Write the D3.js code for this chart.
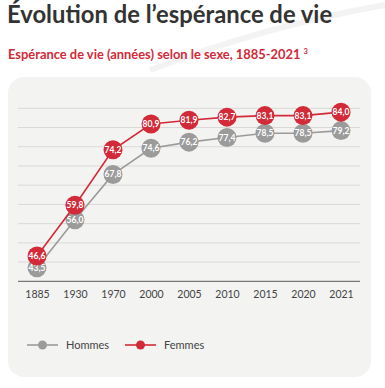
<!DOCTYPE html>
<html>
<head>
<meta charset="utf-8">
<script src="https://cdn.jsdelivr.net/npm/d3@7"></script>
<style>
  body { margin: 0; background: #fff; }
  text { font-family: Lato, "Open Sans", sans-serif; }
</style>
</head>
<body>
<div id="viz"></div>
<script>
"use strict";

const w = 385;
const h = 388;

// data
const years = ["1885", "1930", "1970", "2000", "2005", "2010", "2015", "2020", "2021"];
const hommes = [43.5, 56.0, 67.8, 74.6, 76.2, 77.4, 78.5, 78.5, 79.2];
const femmes = [46.6, 59.8, 74.2, 80.9, 81.9, 82.7, 83.1, 83.1, 84.0];
const gridValues = [45, 50, 55, 60, 65, 70, 75, 80, 85];

const red = "#d22a38";
const grey = "#9b9b9b";

const svg = d3.select("#viz")
  .append("svg")
  .attr("width", w)
  .attr("height", h)

// faint background swoosh
svg.append("path")
  .attr("d", "M150,70 C230,40 300,20 385,5")
  .attr("fill", "none")
  .attr("stroke", "#f3f3f3")
  .attr("stroke-width", 6)

// title
svg.append("text")
  .attr("x", 7)
  .attr("y", 23)
  .attr("font-size", 23.8)
  .attr("font-weight", 700)
  .attr("fill", "#333")
  .text("Évolution de l’espérance de vie")

svg.append("text")
  .attr("x", 8)
  .attr("y", 58.5)
  .attr("font-size", 12.9)
  .attr("font-weight", 700)
  .attr("fill", red)
  .text("Espérance de vie (années) selon le sexe, 1885-2021")
  .append("tspan")
  .attr("font-size", 7.5)
  .attr("dx", 3)
  .attr("dy", -5)
  .text("3")

// panel
svg.append("rect")
  .attr("x", 8)
  .attr("y", 77)
  .attr("width", 363)
  .attr("height", 300)
  .attr("rx", 16)
  .attr("fill", "#f3f3f2")

const x = d3.scalePoint()
  .domain(years)
  .range([37, 341])

const y = d3.scaleLinear()
  .domain([40, 85])
  .range([281.3, 108.3])

// grid
svg.append("g")
  .selectAll("line")
  .data(gridValues)
  .join("line")
  .attr("x1", 18)
  .attr("x2", 360)
  .attr("y1", d => y(d))
  .attr("y2", d => y(d))
  .attr("stroke", "#d9d9d7")
  .attr("stroke-width", 1)

// x axis
const xAxis = svg.append("g")
  .attr("transform", `translate(0,${y(40)})`)
  .call(d3.axisBottom(x).tickSize(0).tickPadding(9))

xAxis.select(".domain")
  .attr("d", "M18,0H360")
  .attr("stroke", "#777")
  .attr("stroke-width", 1.3)

xAxis.selectAll("text")
  .attr("font-family", "Lato, 'Open Sans', sans-serif")
  .attr("font-size", 10.5)
  .attr("fill", "#444")

function drawSeries(values, color) {
  const line = d3.line()
    .x((d, i) => x(years[i]))
    .y(d => y(d))

  svg.append("path")
    .datum(values)
    .attr("d", line)
    .attr("fill", "none")
    .attr("stroke", color)
    .attr("stroke-width", 1.6)

  const pts = svg.append("g")
    .selectAll("g")
    .data(values)
    .join("g")
    .attr("transform", (d, i) => `translate(${x(years[i])},${y(d)})`)

  pts.append("circle")
    .attr("r", 9.5)
    .attr("fill", color)

  pts.append("text")
    .attr("text-anchor", "middle")
    .attr("dy", "0.35em")
    .attr("font-size", 8.5)
    .attr("font-weight", 700)
    .attr("fill", "#fff")
    .text(d => d3.format(".1f")(d).replace(".", ","))
}

drawSeries(hommes, grey)
drawSeries(femmes, red)

// legend
const legend = [
  { label: "Hommes", color: grey, x: 27 },
  { label: "Femmes", color: red, x: 125 }
]

const lg = svg.append("g")
  .selectAll("g")
  .data(legend)
  .join("g")
  .attr("transform", d => `translate(${d.x},345)`)

lg.append("line")
  .attr("x1", 0)
  .attr("x2", 31)
  .attr("stroke", d => d.color)
  .attr("stroke-width", 1.6)

lg.append("circle")
  .attr("cx", 15.5)
  .attr("r", 4.5)
  .attr("fill", d => d.color)

lg.append("text")
  .attr("x", 39)
  .attr("dy", "0.35em")
  .attr("font-size", 11)
  .attr("fill", "#444")
  .text(d => d.label)
</script>
</body>
</html>
